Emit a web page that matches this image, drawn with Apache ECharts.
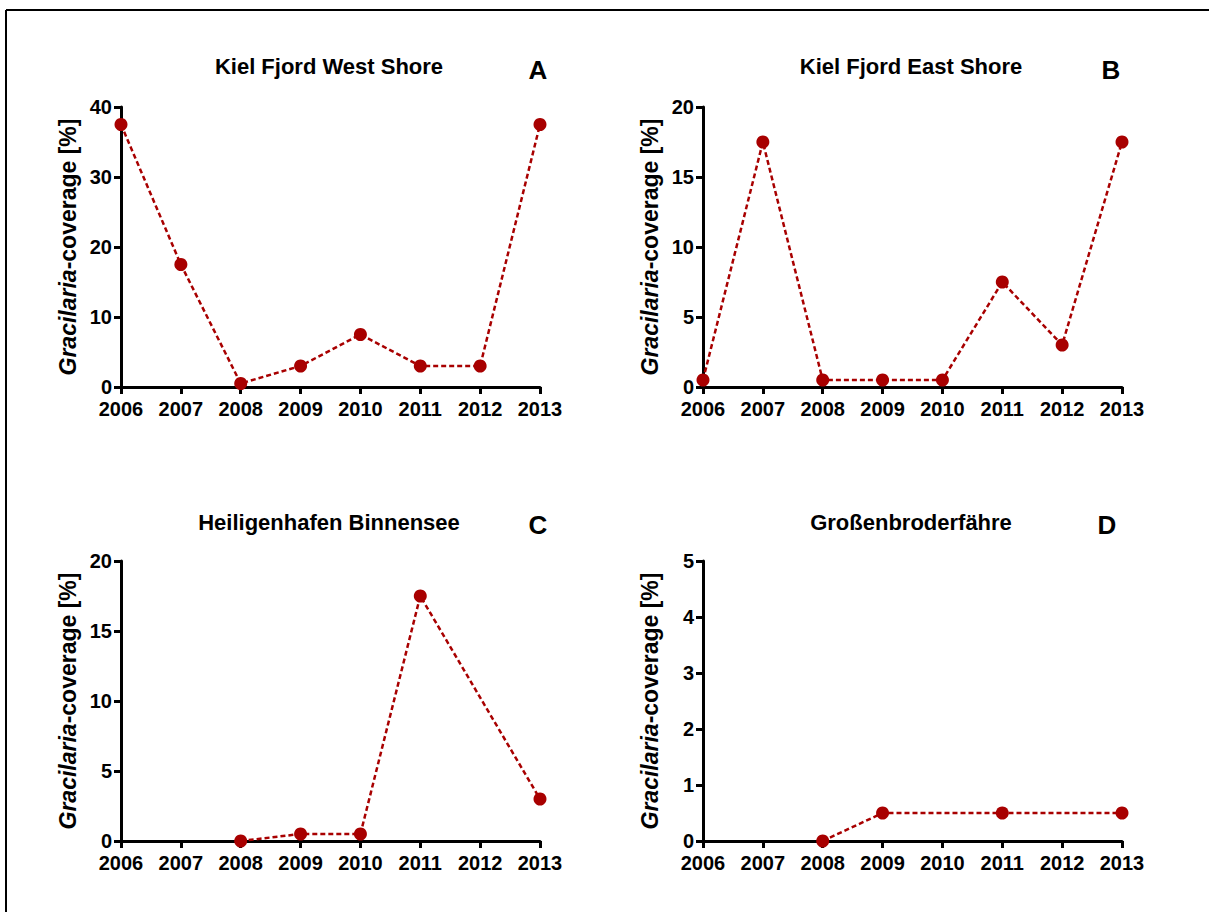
<!DOCTYPE html>
<html>
<head>
<meta charset="utf-8">
<script src="https://cdn.jsdelivr.net/npm/echarts@6/dist/echarts.min.js"></script>
<style>
html,body{margin:0;padding:0;background:#fff;}
#chart{width:1209px;height:912px;}
</style>
</head>
<body>
<div id="chart"></div>
<script>
const years = ['2006','2007','2008','2009','2010','2011','2012','2013'];
const titles = ['Kiel Fjord West Shore','Kiel Fjord East Shore','Heiligenhafen Binnensee','Großenbroderfähre'];
const letters = ['A','B','C','D'];
const westShore = [37.5, 17.5, 0.5, 3, 7.5, 3, 3, 37.5];
const eastShore = [0.5, 17.5, 0.5, 0.5, 0.5, 7.5, 3, 17.5];
const heiligenhafen = [null, null, 0, 0.5, 0.5, 17.5, null, 3];
const grossenbrode = [null, null, 0, 0.5, null, 0.5, null, 0.5];
const yMax = [40, 20, 20, 5];
const yStep = [10, 5, 5, 1];

const seriesData = [westShore, eastShore, heiligenhafen, grossenbrode];
const grids = [
  {left:121, top:107, width:419, height:280},
  {left:703, top:107, width:419, height:280},
  {left:121, top:561, width:419, height:280},
  {left:703, top:561, width:419, height:280}
];
const titlePos = [[329,66],[911,66],[329,522],[911,522]];
const letterPos = [[538,70],[1111,70],[538,525],[1107,525]];
const FONT = '"Liberation Sans", Arial, sans-serif';
const RED = '#a80000';

const chart = echarts.init(document.getElementById('chart'), null, {renderer:'svg'});
const option = {
  backgroundColor:'#fff',
  animation:false,
  grid: grids.map(g => Object.assign({containLabel:false}, g)),
  xAxis: grids.map((g,i) => ({
    type:'category', gridIndex:i, data:years, boundaryGap:false,
    axisLine:{onZero:false, lineStyle:{color:'#000', width:3}},
    axisTick:{show:true, length:7, lineStyle:{color:'#000', width:3}, alignWithLabel:true},
    axisLabel:{color:'#000', fontFamily:FONT, fontWeight:'bold', fontSize:20, margin:12, interval:0},
    splitLine:{show:false}
  })),
  yAxis: grids.map((g,i) => ({
    type:'value', gridIndex:i, min:0, max:yMax[i], interval:yStep[i],
    name:'{it|Gracilaria}{n|-coverage [%]}',
    nameLocation:'middle', nameRotate:90, nameGap:42,
    nameTextStyle:{rich:{
      it:{fontFamily:FONT, fontStyle:'italic', fontWeight:'bold', fontSize:23, color:'#000'},
      n:{fontFamily:FONT, fontWeight:'bold', fontSize:23, color:'#000'}
    }},
    axisLine:{show:true, lineStyle:{color:'#000', width:3}},
    axisTick:{show:true, length:7, lineStyle:{color:'#000', width:3}},
    axisLabel:{color:'#000', fontFamily:FONT, fontWeight:'bold', fontSize:20, margin:9},
    splitLine:{show:false}
  })),
  series: seriesData.map((d,i) => ({
    type:'line', xAxisIndex:i, yAxisIndex:i, data:d, connectNulls:true,
    symbol:'circle', symbolSize:13,
    itemStyle:{color:RED},
    lineStyle:{color:RED, width:2.5, type:[5,3]},
    z:3
  })),
  graphic: [
    {type:'line', shape:{x1:6, y1:10, x2:1209, y2:10}, style:{stroke:'#000', lineWidth:2}},
    {type:'line', shape:{x1:6, y1:10, x2:6, y2:912}, style:{stroke:'#000', lineWidth:2}}
  ].concat(titles.map((t,i) => ({
    type:'text', x:titlePos[i][0], y:titlePos[i][1],
    style:{text:t, fill:'#000', font:'bold 22px ' + FONT, textAlign:'center', textVerticalAlign:'middle'}
  }))).concat(letters.map((t,i) => ({
    type:'text', x:letterPos[i][0], y:letterPos[i][1],
    style:{text:t, fill:'#000', font:'bold 26px ' + FONT, textAlign:'center', textVerticalAlign:'middle'}
  })))
};
chart.setOption(option);
</script>
</body>
</html>
